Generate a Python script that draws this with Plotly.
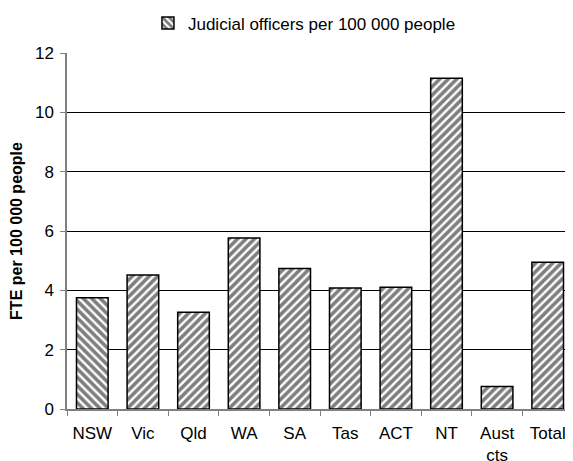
import plotly.graph_objects as go

categories = ["NSW", "Vic", "Qld", "WA", "SA", "Tas", "ACT", "NT", "Aust<br>cts", "Total"]
values = [3.75, 4.52, 3.26, 5.76, 4.74, 4.08, 4.10, 11.15, 0.76, 4.95]
hatch = ["\\", "/", "/", "/", "/", "/", "/", "/", "/", "/"]
series_name = "Judicial officers per 100 000 people"
y_ticks = [0, 2, 4, 6, 8, 10, 12]

FONT = "Arial, Liberation Sans, sans-serif"

fig = go.Figure()
fig.add_trace(go.Bar(
    x=categories,
    y=values,
    name=series_name,
    showlegend=True,
    marker=dict(
        color="white",
        line=dict(color="black", width=1.5),
        pattern=dict(shape=hatch, fgcolor="black", bgcolor="white", size=6, solidity=0.6),
    ),
))

# page body has an 8px margin, so the figure is sized/offset to compensate
fig.update_layout(
    width=565, height=453,
    margin=dict(l=59, r=0, t=45, b=52, autoexpand=False),
    paper_bgcolor="white", plot_bgcolor="white",
    font=dict(family=FONT, size=17, color="black"),
    bargap=0.375,
    showlegend=True,
    legend=dict(
        orientation="h", x=0.16, xanchor="left", y=1.083, yanchor="middle",
        font=dict(family=FONT, size=17, color="black"),
        bgcolor="rgba(0,0,0,0)",
    ),
    xaxis=dict(
        automargin=False,
        showline=True, linecolor="#808080", linewidth=1.5,
        ticks="outside", tickson="boundaries", ticklen=5, tickcolor="#808080",
        ticklabelstandoff=8,
        tickfont=dict(family=FONT, size=17),
        showgrid=False, fixedrange=True,
    ),
    yaxis=dict(
        automargin=False,
        range=[0, 12], tickvals=y_ticks,
        showline=True, linecolor="#808080", linewidth=1.5,
        ticks="outside", ticklen=5, tickcolor="#808080",
        ticklabelstandoff=3,
        showgrid=True, gridcolor="black", gridwidth=1,
        zeroline=False,
        tickfont=dict(family=FONT, size=17),
        title=dict(text="<b>FTE per 100 000 people</b>", font=dict(family=FONT, size=16), standoff=8),
    ),
)

fig.write_html("out.html")
